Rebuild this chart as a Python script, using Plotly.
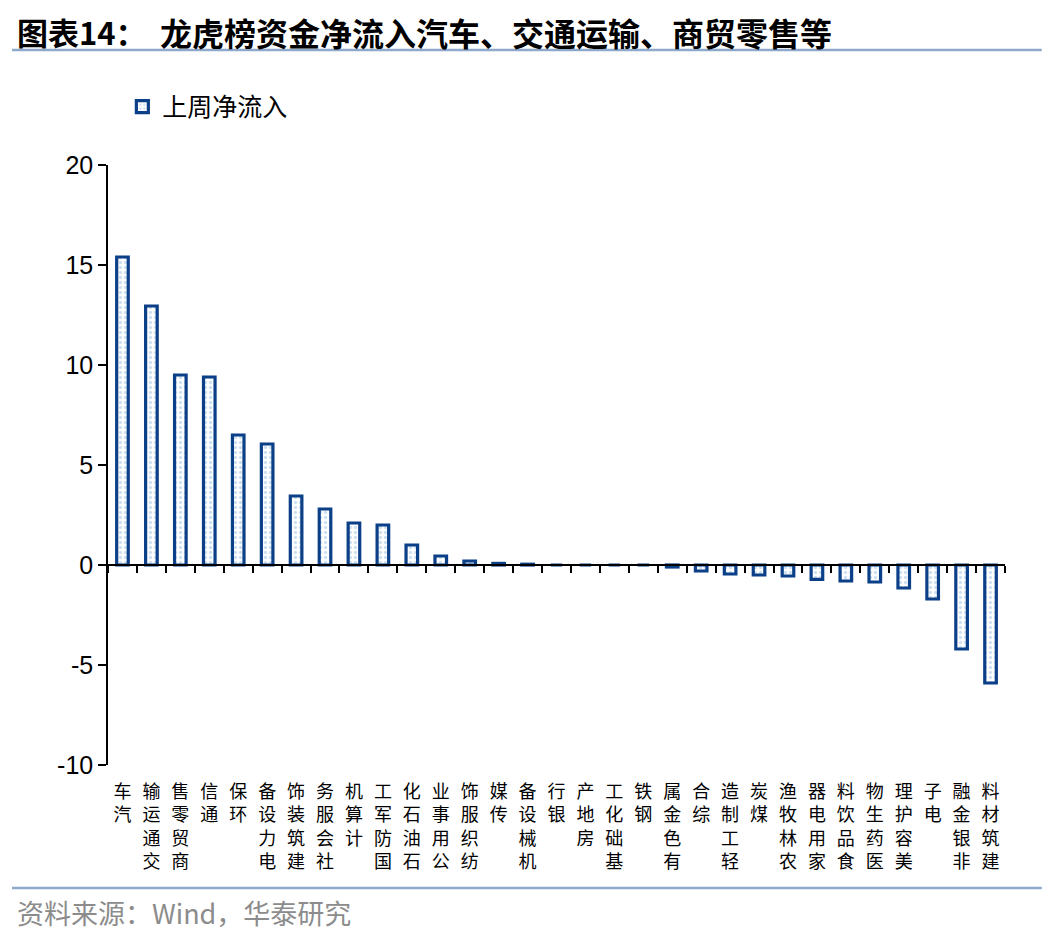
import plotly.graph_objects as go

# 申万一级行业，上周龙虎榜资金净流入（亿元）
industries = ['汽车', '交通运输', '商贸零售', '通信', '环保', '电力设备', '建筑装饰',
              '社会服务', '计算机', '国防军工', '石油石化', '公用事业', '纺织服饰', '传媒',
              '机械设备', '银行', '房地产', '基础化工', '钢铁', '有色金属', '综合',
              '轻工制造', '煤炭', '农林牧渔', '家用电器', '食品饮料', '医药生物',
              '美容护理', '电子', '非银金融', '建筑材料']
net_inflow = [15.4, 12.95, 9.5, 9.4, 6.5, 6.05, 3.45, 2.8, 2.1, 2.0, 1.0, 0.45, 0.2,
              0.08, 0.04, 0, 0, 0, 0, -0.1, -0.3, -0.45, -0.5, -0.55, -0.72, -0.8,
              -0.85, -1.15, -1.7, -4.2, -5.9]
y_ticks = [-10, -5, 0, 5, 10, 15, 20]
y_tick_text = ['-10', '-5', '0', '5', '10', '15', '20']

# 竖排标签：字符自下而上，末字靠近坐标轴
tick_labels = ['<br>'.join(reversed(name)) for name in industries]

cjk = 'Noto Sans CJK SC'
num_font = 'Liberation Sans'
blue = '#0B3F88'
rule_color = '#8EA9C9'
n = len(industries)

fig = go.Figure()
fig.add_trace(go.Bar(
    x=industries, y=net_inflow, name='上周净流入',
    marker=dict(color='white', line=dict(color=blue, width=3.2),
                pattern=dict(shape='.', fgcolor='#9DC3E6', bgcolor='white',
                             size=5, solidity=0.35)),
))
# 零轴上的刻度线（分类边界）
fig.add_trace(go.Scatter(x=industries, y=net_inflow, xaxis='x2', mode='markers',
                         marker=dict(opacity=0), showlegend=False, hoverinfo='skip'))

fig.update_layout(
    width=1050, height=935,
    paper_bgcolor='white', plot_bgcolor='white',
    margin=dict(l=100, r=53, t=157, b=178, autoexpand=False),
    bargap=0.6,
    font=dict(family=cjk, color='black'),
    xaxis=dict(type='category', tickvals=industries, ticktext=tick_labels,
               range=[-0.5, n - 0.5], automargin=False, ticklabelstandoff=14,
               tickangle=0, ticks='', showline=False, showgrid=False,
               tickfont=dict(family=cjk, size=18, color='black')),
    xaxis2=dict(type='category', overlaying='x', matches='x', anchor='free',
                position=1 / 3, showticklabels=False, ticks='outside',
                tickson='boundaries', ticklen=7, tickwidth=1.5, tickcolor='black',
                showline=True, linecolor='black', linewidth=1.5, showgrid=False,
                automargin=False),
    yaxis=dict(range=[-10, 20], tickvals=y_ticks, ticktext=y_tick_text,
               ticks='outside', ticklen=8, automargin=False,
               tickwidth=1.5, tickcolor='black', showline=True, linecolor='black',
               linewidth=1.5, showgrid=False, zeroline=False,
               tickfont=dict(family=num_font, size=25, color='black')),
    legend=dict(x=0.016, y=1.097, xanchor='left', yanchor='middle',
                orientation='h', font=dict(family=cjk, size=25, color='black'),
                bgcolor='rgba(0,0,0,0)'),
    showlegend=True,
    shapes=[
        dict(type='line', xref='paper', yref='paper', x0=-0.107, x1=1.041,
             y0=1.1917, y1=1.1917, line=dict(color=rule_color, width=2.5)),
        dict(type='line', xref='paper', yref='paper', x0=-0.107, x1=1.041,
             y0=-0.205, y1=-0.205, line=dict(color=rule_color, width=2.5)),
    ],
    annotations=[
        dict(text='<b>图表14：</b>', xref='paper', yref='paper', x=-0.1037, y=1.222,
             xanchor='left', yanchor='middle', showarrow=False,
             font=dict(family=cjk, size=31, color='black')),
        dict(text='<b>龙虎榜资金净流入汽车、交通运输、商贸零售等</b>', xref='paper',
             yref='paper', x=0.056, y=1.222, xanchor='left', yanchor='middle',
             showarrow=False, font=dict(family=cjk, size=32, color='black')),
        dict(text='资料来源：Wind，华泰研究', xref='paper', yref='paper', x=-0.1037,
             y=-0.245, xanchor='left', yanchor='middle', showarrow=False,
             font=dict(family=cjk, size=27, color='#8C8C8C')),
    ],
)

fig.write_html('out.html')
